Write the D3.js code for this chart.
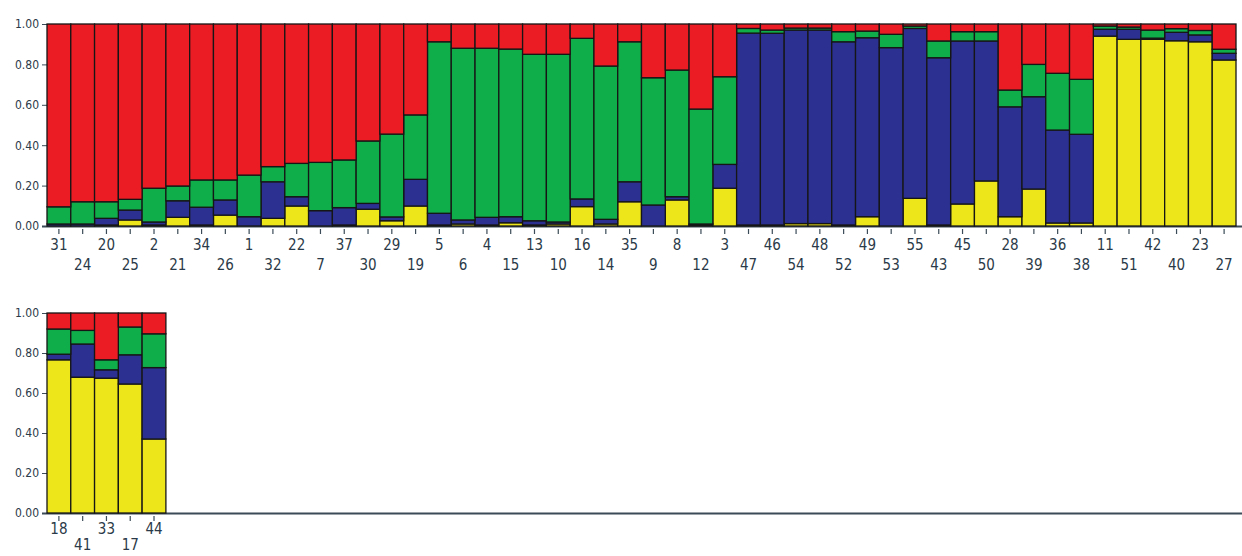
<!DOCTYPE html>
<html>
<head>
    <meta charset="utf-8">
    <title>Structure plot</title>
    <style>
        body { margin: 0; background: #fff; }
        svg { display: block; }
        .lbl { font-family: "Liberation Sans Narrow", "DejaVu Sans Condensed", sans-serif; fill: #2b3a48; }
        .ylab text { font-size: 12px; }
        .xlab { font-size: 15px; text-anchor: middle; }
        .seg { stroke: #161616; stroke-width: 1.3px; }
    </style>
</head>
<body>
<svg id="chart" width="1242" height="556"></svg>
<script src="https://d3js.org/d3.v7.min.js"></script>
<script>
    // individuals in plot order, first 50 go on the top row
    const individuals = [31, 24, 20, 25, 2, 21, 34, 26, 1, 32, 22, 7, 37, 30, 29, 19, 5, 6, 4, 15,
        13, 10, 16, 14, 35, 9, 8, 12, 3, 47, 46, 54, 48, 52, 49, 53, 55, 43, 45, 50,
        28, 39, 36, 38, 11, 51, 42, 40, 23, 27,
        18, 41, 33, 17, 44];
    const perRow = 50;

    // membership coefficients (Q) per cluster, same order as individuals
    const yellow = [0, 0, .005, .03, .005, .043, .005, .054, 0, .038, .099, 0, .005, .083, .026, .099, .005, .01, .005, .016,
        .005, .01, .096, .01, .12, 0, .129, .005, .187, .005, .005, .012, .012, .005, .046, 0, .137, .005, .109, .223,
        .046, .183, .015, .015, .94, .924, .924, .917, .912, .822,
        .766, .679, .674, .645, .37];
    const blue = [.01, .01, .033, .049, .015, .082, .088, .075, .046, .181, .046, .076, .086, .029, .019, .132, .058, .02, .038, .03,
        .021, .01, .038, .023, .099, .104, .016, .005, .118, .95, .949, .958, .958, .907, .886, .883, .841, .828, .807, .693,
        .544, .457, .46, .439, .034, .05, .006, .042, .034, .033,
        .028, .166, .042, .146, .357];
    const green = [.085, .11, .082, .053, .167, .073, .135, .099, .206, .075, .165, .239, .236, .309, .41, .319, .849, .85, .837, .83,
        .824, .83, .795, .759, .693, .63, .627, .569, .434, .023, .016, .01, .01, .05, .033, .066, .012, .083, .046, .046,
        .083, .16, .281, .272, .016, .011, .04, .018, .022, .02,
        .126, .068, .05, .139, .169];
    const red = [.905, .88, .88, .868, .813, .802, .772, .772, .748, .706, .69, .685, .673, .579, .545, .45, .088, .12, .12, .124,
        .15, .15, .071, .208, .088, .266, .228, .421, .261, .022, .03, .02, .02, .038, .035, .051, .01, .084, .038, .038,
        .327, .2, .244, .274, .01, .015, .03, .023, .032, .125,
        .08, .087, .234, .07, .104];

    const clusters = ['yellow', 'blue', 'green', 'red'];
    const colors = { yellow: '#ede61a', blue: '#2c3191', green: '#10ae4b', red: '#ec1c24' };
    const yTicks = [0, 0.2, 0.4, 0.6, 0.8, 1.0];

    const rows = [
        { top: 24, bottom: 226, lab: [24, 44] },
        { top: 313, bottom: 513, lab: [21, 37] }
    ];
    const left = 47, right = 1236;

    const table = individuals.map((id, i) => ({
        id, i, slot: i % perRow, row: Math.floor(i / perRow),
        yellow: yellow[i], blue: blue[i], green: green[i], red: red[i]
    }));

    const svg = d3.select('svg#chart');
    const x = d3.scaleBand().domain(d3.range(perRow)).range([left, right]).padding(0);

    rows.forEach((r, ri) => {
        const data = table.filter(d => d.row === ri);
        const y = d3.scaleLinear().domain([0, 1]).range([r.bottom, r.top]);
        const g = svg.append('g');

        // bottom axis line runs the full width
        g.append('line')
            .attr('x1', left - 5).attr('x2', 1242)
            .attr('y1', r.bottom + 0.5).attr('y2', r.bottom + 0.5)
            .attr('stroke', '#3b4b57').attr('stroke-width', 2);

        // y axis (drawn under the bars so the bar outline forms the frame)
        const ya = g.append('g')
            .attr('class', 'ylab lbl')
            .attr('transform', `translate(${left},0)`)
            .call(d3.axisLeft(y).tickValues(yTicks).tickFormat(d3.format('.2f'))
                .tickSize(5).tickSizeOuter(0).tickPadding(3));
        ya.select('.domain').attr('stroke', '#3b4b57');
        ya.selectAll('.tick line').attr('stroke', '#3b4b57');
        ya.selectAll('text').attr('fill', '#2b3a48').attr('font-family', null);

        const stack = d3.stack().keys(clusters)(data);
        g.selectAll('g.layer').data(stack).join('g')
            .attr('class', 'layer')
            .attr('fill', s => colors[s.key])
            .selectAll('rect').data(s => s).join('rect')
            .attr('class', 'seg')
            .attr('x', d => x(d.data.slot))
            .attr('width', x.bandwidth())
            .attr('y', d => y(d[1]))
            .attr('height', d => y(d[0]) - y(d[1]));

        // x ticks and staggered labels
        const xt = g.selectAll('g.xt').data(data).join('g')
            .attr('class', 'xt')
            .attr('transform', d => `translate(${x(d.slot) + x.bandwidth() / 2},${r.bottom})`);
        xt.append('line').attr('y1', 3).attr('y2', 8).attr('stroke', '#3b4b57').attr('stroke-width', 1.2);
        xt.append('text')
            .attr('class', 'xlab lbl')
            .attr('y', d => d.slot % 2 === 0 ? r.lab[0] : r.lab[1])
            .text(d => d.id);
    });
</script>
</body>
</html>
